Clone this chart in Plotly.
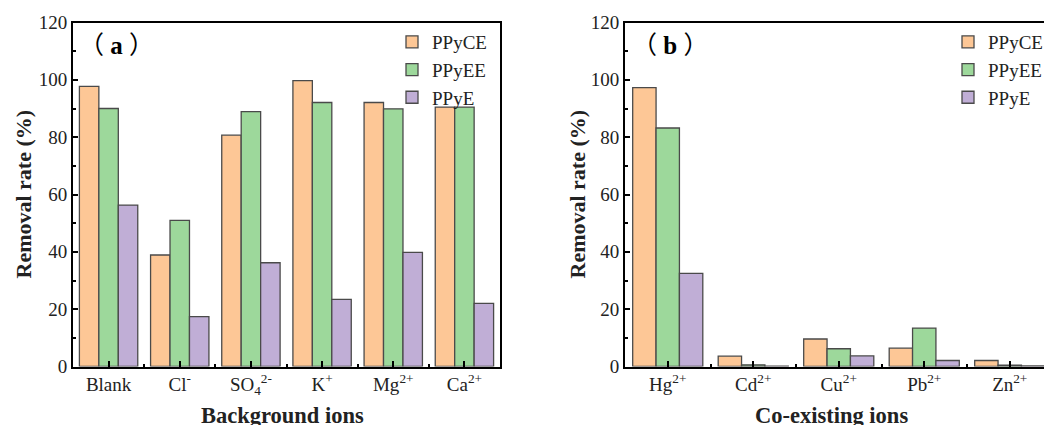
import plotly.graph_objects as go

# ---- data ----
series = ["PPyCE", "PPyEE", "PPyE"]
colors = ["#FDC796", "#9DD89B", "#C0AED6"]

bg_ions = ["Blank", "Cl<sup>-</sup>", "SO<sub>4</sub><sup>2-</sup>", "K<sup>+</sup>", "Mg<sup>2+</sup>", "Ca<sup>2+</sup>"]
bg_ppyce = [97.7, 38.9, 80.7, 99.7, 92.1, 90.5]
bg_ppyee = [90.0, 51.0, 88.9, 92.1, 89.9, 90.5]
bg_ppye = [56.3, 17.4, 36.2, 23.4, 39.8, 22.0]

co_ions = ["Hg<sup>2+</sup>", "Cd<sup>2+</sup>", "Cu<sup>2+</sup>", "Pb<sup>2+</sup>", "Zn<sup>2+</sup>"]
co_ppyce = [97.3, 3.6, 9.6, 6.4, 2.1]
co_ppyee = [83.2, 0.6, 6.2, 13.4, 0.5]
co_ppye = [32.5, 0.1, 3.7, 2.1, 0.2]

y_ticks = [0, 20, 40, 60, 80, 100, 120]

# ---- figure ----
W, H = 1044, 425
FONT = "Liberation Serif, Times New Roman, serif"
CJK = "Noto Sans CJK SC"
fig = go.Figure()

bg_x = list(range(len(bg_ions)))
co_x = list(range(len(co_ions)))

for name, col, vals in zip(series, colors, [bg_ppyce, bg_ppyee, bg_ppye]):
    fig.add_trace(go.Bar(x=bg_x, y=vals, name=name, marker=dict(color=col, line=dict(color="#4a4a4a", width=1.3)),
                         xaxis="x", yaxis="y", legend="legend", offsetgroup=name))
for name, col, vals in zip(series, colors, [co_ppyce, co_ppyee, co_ppye]):
    fig.add_trace(go.Bar(x=co_x, y=vals, name=name, marker=dict(color=col, line=dict(color="#4a4a4a", width=1.3)),
                         xaxis="x2", yaxis="y2", legend="legend2", offsetgroup=name))

ydom = [(H - 366.5) / H, (H - 22.5) / H]
tickfont = dict(family=FONT, size=19, color="#222")

def xaxis_cfg(domain, labels, rng):
    return dict(domain=domain, range=rng, tickmode="array", tickvals=list(range(len(labels))), ticktext=labels,
                showline=True, linecolor="black", linewidth=2, mirror=True, showgrid=False, zeroline=False,
                ticks="inside", ticklen=6, tickwidth=2, tickcolor="black", tickfont=tickfont,
                minor=dict(tick0=0.5, dtick=1, ticks="inside", ticklen=3, tickwidth=2, tickcolor="black"),
                fixedrange=True)

def yaxis_cfg(anchor, mirror):
    return dict(domain=ydom, anchor=anchor, range=[0, 120], tickmode="array", tickvals=y_ticks,
                showline=True, linecolor="black", linewidth=2, mirror=mirror, showgrid=False, zeroline=False,
                ticks="inside", ticklen=5, tickwidth=2, tickcolor="black", tickfont=tickfont,
                minor=dict(tick0=10, dtick=20, ticks="inside", ticklen=3, tickwidth=2, tickcolor="black"),
                fixedrange=True)

legfont = dict(family=FONT, size=19, color="#222")
fig.update_layout(
    width=W, height=H,
    margin=dict(l=0, r=0, t=0, b=0, autoexpand=False),
    paper_bgcolor="white", plot_bgcolor="white",
    barmode="group", bargap=0.18, bargroupgap=0,
    font=dict(family=FONT, color="#222"),
    xaxis=xaxis_cfg([73 / W, 500 / W], bg_ions, [-0.5, len(bg_ions) - 0.5]) | dict(anchor="y"),
    yaxis=yaxis_cfg("x", True),
    xaxis2=xaxis_cfg([625 / W, 1.0], co_ions, [-0.5, -0.5 + 419 / 85.5]) | dict(anchor="y2"),
    yaxis2=yaxis_cfg("x2", False),
    legend=dict(x=392 / W, y=1 - 23 / H, xanchor="left", yanchor="top", font=legfont,
                bgcolor="rgba(0,0,0,0)", tracegroupgap=0),
    legend2=dict(x=948 / W, y=1 - 23 / H, xanchor="left", yanchor="top", font=legfont,
                 bgcolor="rgba(0,0,0,0)", tracegroupgap=0),
    showlegend=True,
)

def panel_label(letter):
    return (f"<span style='font-family:{CJK}'>（</span><b> {letter} </b>"
            f"<span style='font-family:{CJK}'>）</span>")

annos = [
    dict(text=panel_label("a"), x=116 / W, y=1 - 43 / H, font=dict(family=FONT, size=25, color="black")),
    dict(text=panel_label("b"), x=670 / W, y=1 - 43 / H, font=dict(family=FONT, size=25, color="black")),
    dict(text="<b>Removal rate (%)</b>", x=23 / W, y=1 - 194.5 / H, textangle=-90,
         font=dict(family=FONT, size=22, color="#222")),
    dict(text="<b>Removal rate (%)</b>", x=577 / W, y=1 - 194.5 / H, textangle=-90,
         font=dict(family=FONT, size=22, color="#222")),
    dict(text="<b>Background ions</b>", x=282 / W, y=1 - 401 / H, yanchor="top",
         font=dict(family=FONT, size=22.5, color="#222")),
    dict(text="<b>Co-existing ions</b>", x=831 / W, y=1 - 401 / H, yanchor="top",
         font=dict(family=FONT, size=22.5, color="#222")),
]
for a in annos:
    a.update(xref="paper", yref="paper", showarrow=False, xanchor="center")
    a.setdefault("yanchor", "middle")
fig.update_layout(annotations=annos)

fig.write_html("out.html", config={"displayModeBar": False},
               post_script="document.body.style.margin='0';")
